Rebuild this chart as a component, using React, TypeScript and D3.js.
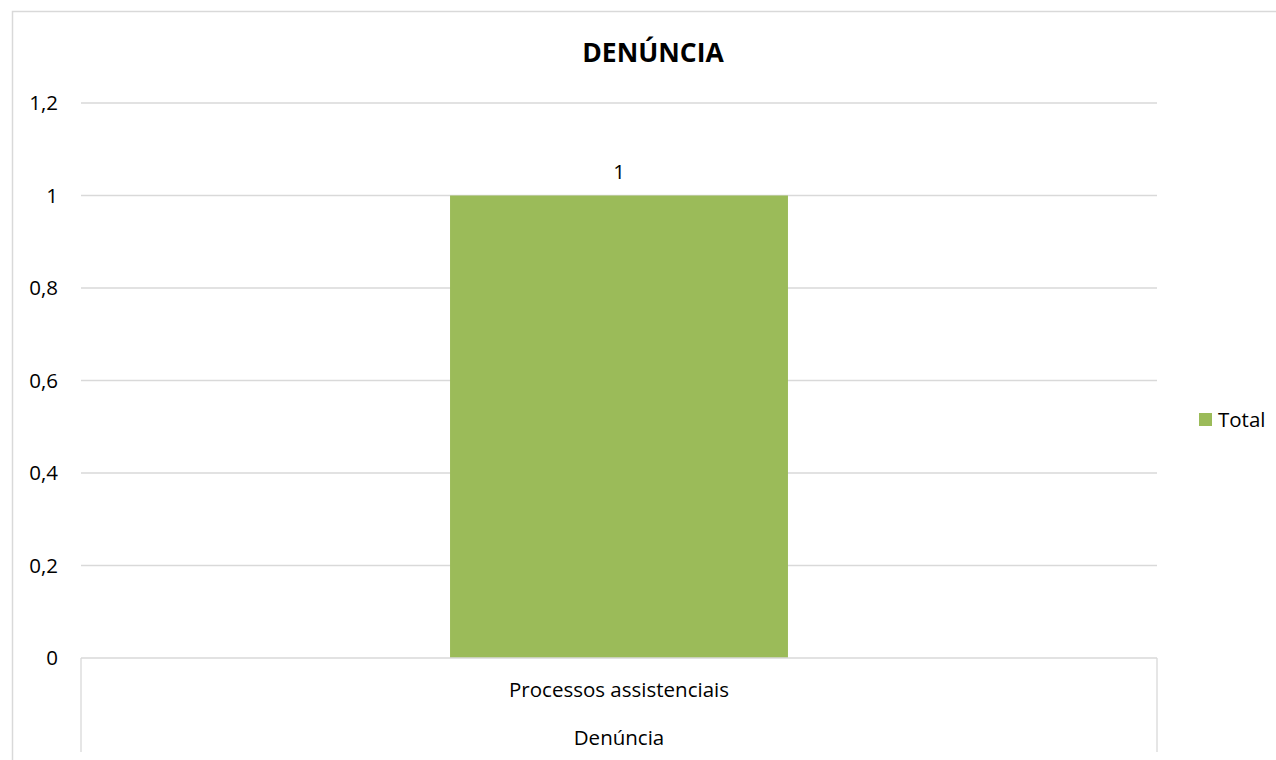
import React from "react";
import * as d3 from "d3";

const categories = ["Processos assistenciais"];
const groupLabel = "Denúncia";
const seriesName = "Total";
const values = [1];
const yTicks = [0, 0.2, 0.4, 0.6, 0.8, 1, 1.2];
const title = "DENÚNCIA";

const W = 1276;
const H = 760;
const FONT = "'Open Sans', 'Noto Sans', sans-serif";
const FS = 20.5;

export default function App() {
  const left = 81;
  const right = 1157;
  const top = 103;
  const bottom = 658;
  const x = d3.scaleBand<string>().domain(categories).range([left, right]).padding(0.522);
  const y = d3.scaleLinear().domain([0, 1.2]).range([bottom, top]);
  const fmt = (v: number) => d3.format(".1~f")(v).replace(".", ",");
  const barColor = "#9bbb59";
  const grid = "#d9d9d9";

  return (
    <div style={{ position: "absolute", left: 0, top: 0 }}>
      <svg width={W} height={H} style={{ display: "block", background: "#fff" }}>
        <rect x={12.5} y={11.5} width={W + 10} height={H + 10} fill="#fff" stroke={grid} strokeWidth={1.5} />
        <text x={653} y={62} textAnchor="middle" fontFamily={FONT} fontWeight="bold" fontSize={26.5} fill="#000">
          {title}
        </text>
        {yTicks.map((t) => (
          <g key={t}>
            {t > 0 && <line x1={left} x2={right} y1={y(t)} y2={y(t)} stroke={grid} strokeWidth={1.3} />}
            <text x={58} y={y(t)} dy="0.35em" textAnchor="end" fontFamily={FONT} fontSize={FS} fill="#000">
              {fmt(t)}
            </text>
          </g>
        ))}
        {categories.map((c, i) => (
          <g key={c}>
            <rect x={x(c)} y={y(values[i])} width={x.bandwidth()} height={bottom - y(values[i])} fill={barColor} />
            <text x={(x(c) as number) + x.bandwidth() / 2} y={y(values[i]) - 24} dy="0.35em" textAnchor="middle" fontFamily={FONT} fontSize={FS} fill="#000">
              {values[i]}
            </text>
            <text x={(x(c) as number) + x.bandwidth() / 2} y={690} dy="0.35em" textAnchor="middle" fontFamily={FONT} fontSize={FS} fill="#000">
              {c}
            </text>
          </g>
        ))}
        <line x1={left} x2={right} y1={bottom} y2={bottom} stroke={grid} strokeWidth={1.3} />
        <line x1={left} x2={left} y1={bottom} y2={752} stroke={grid} strokeWidth={1.3} />
        <line x1={right} x2={right} y1={bottom} y2={752} stroke={grid} strokeWidth={1.3} />
        <text x={(left + right) / 2} y={738} dy="0.35em" textAnchor="middle" fontFamily={FONT} fontSize={FS} fill="#000">
          {groupLabel}
        </text>
        <rect x={1199} y={413} width={13} height={13} fill={barColor} />
        <text x={1218} y={420} dy="0.35em" fontFamily={FONT} fontSize={FS} fill="#000">
          {seriesName}
        </text>
      </svg>
    </div>
  );
}
